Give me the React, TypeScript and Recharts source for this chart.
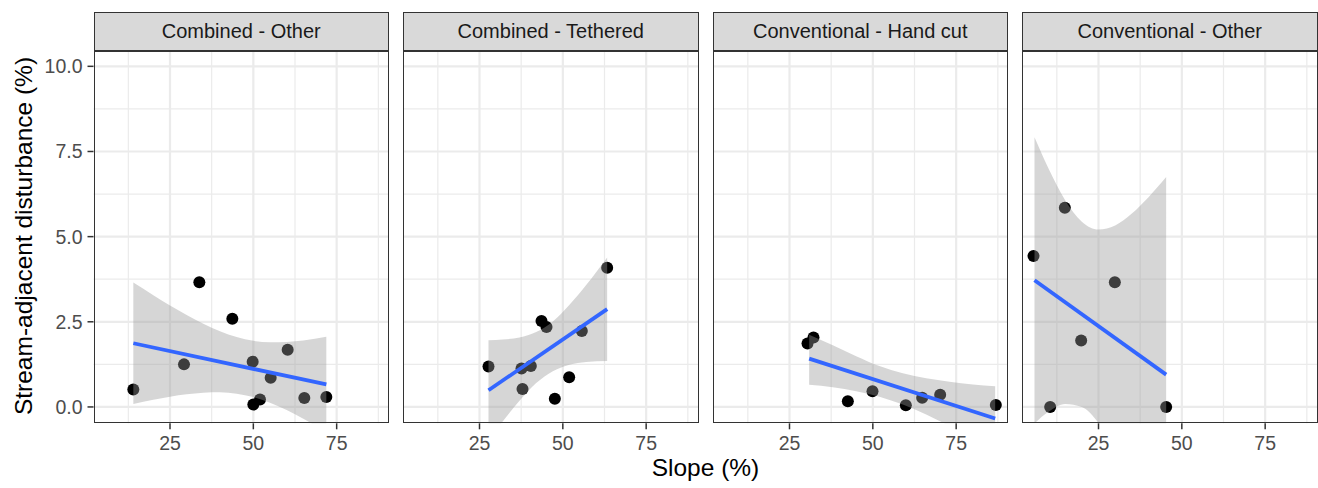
import React from 'react';
import { ComposedChart, XAxis, YAxis, CartesianGrid, Scatter, Area, Line } from 'recharts';

// ---- Facet labels ----
const facetLabels = ['Combined - Other', 'Combined - Tethered', 'Conventional - Hand cut', 'Conventional - Other'];

// ---- Combined - Other ----
const slopeCO = [14.0, 29.2, 33.8, 43.7, 49.8, 50.0, 52.0, 55.2, 60.3, 65.3, 71.9];
const distCO = [0.51, 1.25, 3.66, 2.59, 1.33, 0.07, 0.22, 0.86, 1.68, 0.26, 0.29];
const fitXCO = [14.0, 71.9];
const fitYCO = [1.87, 0.66];
const bandXCO = [14, 20, 25, 30, 35, 40, 45, 50, 55, 60, 65, 71.9];
const bandLoCO = [0.09, 0.21, 0.30, 0.37, 0.42, 0.43, 0.39, 0.29, 0.12, -0.09, -0.35, -0.74];
const bandHiCO = [3.65, 3.28, 2.98, 2.70, 2.44, 2.22, 2.05, 1.94, 1.90, 1.91, 1.95, 2.06];

// ---- Combined - Tethered ----
const slopeCT = [27.7, 37.6, 37.9, 40.4, 43.6, 45.1, 47.6, 51.9, 55.7, 63.3];
const distCT = [1.19, 1.13, 0.53, 1.20, 2.52, 2.35, 0.24, 0.87, 2.23, 4.09];
const fitXCT = [27.7, 63.3];
const fitYCT = [0.49, 2.87];
const bandXCT = [27.7, 32, 37, 42, 47, 52, 57, 63.3];
const bandLoCT = [-0.98, -0.42, 0.18, 0.70, 1.05, 1.24, 1.32, 1.35];
const bandHiCT = [1.96, 1.98, 2.04, 2.20, 2.51, 3.00, 3.58, 4.39];

// ---- Conventional - Hand cut ----
const slopeCH = [30.4, 32.2, 42.5, 49.9, 59.9, 64.8, 70.2, 86.9];
const distCH = [1.86, 2.04, 0.17, 0.46, 0.05, 0.27, 0.36, 0.06];
const fitXCH = [30.9, 86.7];
const fitYCH = [1.42, -0.34];
const bandXCH = [30.9, 38, 45, 52, 59, 66, 73, 80, 86.7];
const bandLoCH = [0.65, 0.58, 0.46, 0.30, 0.07, -0.22, -0.56, -0.92, -1.28];
const bandHiCH = [2.12, 1.81, 1.49, 1.20, 0.99, 0.84, 0.74, 0.66, 0.61];

// ---- Conventional - Other ----
const slopeCV = [5.5, 10.5, 14.9, 19.8, 29.9, 45.3];
const distCV = [4.43, 0.0, 5.85, 1.95, 3.66, 0.0];
const fitXCV = [5.8, 45.3];
const fitYCV = [3.72, 0.95];
const bandXCV = [5.8, 10, 15, 20, 25, 30, 35, 40, 45.3];
const bandLoCV = [-0.48, -0.14, 0.09, 0.0, -0.47, -1.29, -2.34, -3.52, -4.85];
const bandHiCV = [7.92, 7.0, 6.07, 5.44, 5.21, 5.33, 5.68, 6.16, 6.75];

// ---- Axis ticks ----
const xTicks = [25, 50, 75];
const xMinor = [12.5, 37.5, 62.5, 87.5];
const yTicks = [0, 2.5, 5, 7.5, 10];
const yMinor = [1.25, 3.75, 6.25, 8.75];
const X_DOMAIN: [number, number] = [2.05, 90.7];
const Y_DOMAIN: [number, number] = [-0.48, 10.45];

const xTitle = 'Slope (%)';
const yTitle = 'Stream-adjacent disturbance (%)';

const toPts = (xs: number[], ys: number[]) => xs.map((x, i) => ({ x, y: ys[i] }));
const toBand = (xs: number[], lo: number[], hi: number[]) => xs.map((x, i) => ({ x, band: [lo[i], hi[i]] }));

const panels = [
  { label: facetLabels[0], pts: toPts(slopeCO, distCO), fit: toPts(fitXCO, fitYCO), band: toBand(bandXCO, bandLoCO, bandHiCO) },
  { label: facetLabels[1], pts: toPts(slopeCT, distCT), fit: toPts(fitXCT, fitYCT), band: toBand(bandXCT, bandLoCT, bandHiCT) },
  { label: facetLabels[2], pts: toPts(slopeCH, distCH), fit: toPts(fitXCH, fitYCH), band: toBand(bandXCH, bandLoCH, bandHiCH) },
  { label: facetLabels[3], pts: toPts(slopeCV, distCV), fit: toPts(fitXCV, fitYCV), band: toBand(bandXCV, bandLoCV, bandHiCV) },
];

// ---- Layout ----
const PANEL_LEFT = [93.5, 403, 712.5, 1022];
const PANEL_W = 295.5;
const PANEL_TOP = 50.7;
const PANEL_H = 372.3;
const STRIP_TOP = 11.7;
const X_AXIS_H = 45;
const FONT = '"Liberation Sans", Arial, Helvetica, sans-serif';

const Dot = (props: any) => {
  const { cx, cy } = props;
  if (cx == null || cy == null) return null;
  return <circle cx={cx} cy={cy} r={6} fill="#000000" />;
};

export default function App() {
  return (
    <div style={{ position: 'absolute', left: 0, top: 0, width: 1318, height: 488, background: '#FFFFFF', fontFamily: FONT, overflow: 'hidden' }}>
      {panels.map((p, i) => {
        const L = PANEL_LEFT[i];
        const first = i === 0;
        const chartW = first ? L + PANEL_W : PANEL_W;
        const chartH = PANEL_H + X_AXIS_H;
        return (
          <React.Fragment key={p.label}>
            <div
              style={{
                position: 'absolute', left: L, top: STRIP_TOP, width: PANEL_W, height: PANEL_TOP - STRIP_TOP,
                background: '#D9D9D9', border: '1.5px solid #333333', boxSizing: 'border-box',
                display: 'flex', alignItems: 'center', justifyContent: 'center',
                fontSize: 20, color: '#1A1A1A', whiteSpace: 'nowrap',
              }}
            >
              {p.label}
            </div>
            {/* Layer 1: grid, axes, points */}
            <div style={{ position: 'absolute', left: first ? 0 : L, top: PANEL_TOP }}>
              <ComposedChart width={chartW} height={chartH} data={p.pts} margin={{ top: 0, right: 0, bottom: 0, left: 0 }}>
                <CartesianGrid verticalValues={xMinor} horizontalValues={yMinor} stroke="#EBEBEB" strokeWidth={1.2} fill="none" />
                <CartesianGrid verticalValues={xTicks} horizontalValues={yTicks} stroke="#EBEBEB" strokeWidth={2.2} fill="none" />
                <XAxis
                  type="number" dataKey="x" domain={X_DOMAIN} ticks={xTicks} allowDataOverflow interval={0}
                  height={X_AXIS_H} axisLine={false} tickLine={{ stroke: '#333333', strokeWidth: 1.5 }} tickSize={6} tickMargin={7}
                  tick={{ fill: '#4D4D4D', fontSize: 19.5 }}
                />
                <YAxis
                  type="number" domain={Y_DOMAIN} ticks={yTicks} allowDataOverflow interval={0} hide={!first}
                  width={first ? L : 0} axisLine={false} tickLine={{ stroke: '#333333', strokeWidth: 1.5 }} tickSize={6} tickMargin={5}
                  tick={{ fill: '#4D4D4D', fontSize: 19.5 }} tickFormatter={(v: number) => v.toFixed(1)}
                />
                <Scatter data={p.pts} dataKey="y" shape={Dot} isAnimationActive={false} />
              </ComposedChart>
            </div>
            {/* Layer 2: confidence ribbon and fitted line drawn over the points */}
            <div style={{ position: 'absolute', left: first ? 0 : L, top: PANEL_TOP }}>
              <ComposedChart
                width={chartW}
                height={chartH}
                data={p.band}
                margin={{ top: 0, right: 0, bottom: X_AXIS_H, left: first ? L : 0 }}
              >
                <XAxis type="number" dataKey="x" domain={X_DOMAIN} allowDataOverflow hide height={0} />
                <YAxis type="number" domain={Y_DOMAIN} allowDataOverflow hide width={0} />
                <Area dataKey="band" type="monotone" stroke="none" fill="#999999" fillOpacity={0.4} isAnimationActive={false} activeDot={false} />
                <Line data={p.fit} dataKey="y" type="linear" stroke="#3366FF" strokeWidth={3.8} dot={false} activeDot={false} isAnimationActive={false} />
              </ComposedChart>
            </div>
            <div
              style={{
                position: 'absolute', left: L, top: PANEL_TOP, width: PANEL_W, height: PANEL_H,
                border: '1.5px solid #333333', boxSizing: 'border-box', pointerEvents: 'none',
              }}
            />
          </React.Fragment>
        );
      })}
      <div
        style={{
          position: 'absolute', left: 705.5, top: 468, transform: 'translate(-50%, -50%)',
          fontSize: 24.5, lineHeight: 1, color: '#000000', whiteSpace: 'nowrap',
        }}
      >
        {xTitle}
      </div>
      <div
        style={{
          position: 'absolute', left: 23.5, top: 236, transform: 'translate(-50%, -50%) rotate(-90deg)',
          fontSize: 24.5, lineHeight: 1, color: '#000000', whiteSpace: 'nowrap',
        }}
      >
        {yTitle}
      </div>
    </div>
  );
}
